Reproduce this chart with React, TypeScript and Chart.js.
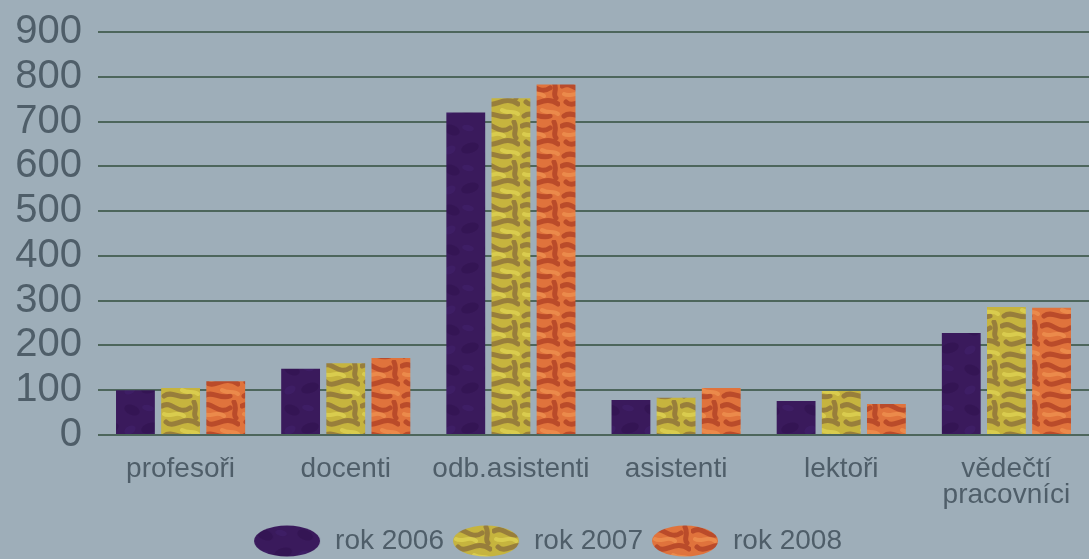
import React, { useEffect, useRef } from "react";
import { Chart, registerables } from "chart.js";

Chart.register(...registerables);

const categories: (string | string[])[] = [
  "profesoři",
  "docenti",
  "odb.asistenti",
  "asistenti",
  "lektoři",
  ["vědečtí", "pracovníci"],
];
const seriesNames = ["rok 2006", "rok 2007", "rok 2008"];
const values2006 = [100, 148, 720, 78, 76, 228];
const values2007 = [105, 160, 752, 83, 98, 286];
const values2008 = [120, 172, 783, 105, 69, 284];
const yMin = 0;
const yMax = 900;
const yStep = 100;

const BG = "#9eaeb9";
const TEXT = "#4f5e69";
const FONT = "'Liberation Sans', Arial, sans-serif";

function makePattern(base: string, dark: string, light: string, kind: number) {
  const c = document.createElement("canvas");
  c.width = 40;
  c.height = 40;
  const g = c.getContext("2d")!;
  g.fillStyle = base;
  g.fillRect(0, 0, 40, 40);
  g.lineCap = "round";
  if (kind === 0) {
    g.fillStyle = dark;
    g.globalAlpha = 0.35;
    g.beginPath();
    g.ellipse(12, 10, 8, 5, 0.4, 0, Math.PI * 2);
    g.ellipse(30, 28, 9, 5, -0.3, 0, Math.PI * 2);
    g.fill();
    g.fillStyle = light;
    g.globalAlpha = 0.25;
    g.beginPath();
    g.ellipse(28, 8, 6, 3, 0.2, 0, Math.PI * 2);
    g.ellipse(10, 30, 6, 4, -0.5, 0, Math.PI * 2);
    g.fill();
  } else {
    g.strokeStyle = dark;
    g.lineWidth = 5;
    g.globalAlpha = 0.6;
    g.beginPath();
    g.moveTo(2, 6);
    g.bezierCurveTo(12, 0, 18, 16, 30, 8);
    g.moveTo(6, 22);
    g.bezierCurveTo(14, 30, 24, 14, 38, 24);
    g.moveTo(4, 36);
    g.bezierCurveTo(12, 30, 20, 40, 30, 36);
    g.moveTo(34, 2);
    g.bezierCurveTo(38, 10, 32, 14, 36, 18);
    g.stroke();
    g.strokeStyle = light;
    g.lineWidth = 4;
    g.globalAlpha = 0.6;
    g.beginPath();
    g.moveTo(4, 14);
    g.bezierCurveTo(10, 18, 18, 10, 24, 16);
    g.moveTo(22, 30);
    g.bezierCurveTo(28, 34, 34, 30, 38, 34);
    g.stroke();
  }
  return g.createPattern(c, "repeat")!;
}

function makeEllipse(fill: CanvasPattern | string) {
  const c = document.createElement("canvas");
  c.width = 68;
  c.height = 32;
  const g = c.getContext("2d")!;
  g.fillStyle = fill;
  g.beginPath();
  g.ellipse(34, 16, 33, 15.5, 0, 0, Math.PI * 2);
  g.fill();
  return c;
}

export default function App() {
  const ref = useRef<HTMLCanvasElement>(null);

  useEffect(() => {
    const canvas = ref.current!;
    const p1 = makePattern("#3a1a5c", "#2a0f45", "#4a2a80", 0);
    const p2 = makePattern("#c6b43e", "#7a5a3a", "#e6dc5a", 1);
    const p3 = makePattern("#e0733c", "#a0301e", "#f29a55", 1);
    const fills = [p1, p2, p3];
    const ellipses = fills.map((f) => makeEllipse(f));
    const seriesValues = [values2006, values2007, values2008];

    const chart = new Chart(canvas, {
      type: "bar",
      data: {
        labels: categories,
        datasets: seriesNames.map((name, i) => ({
          label: name,
          data: seriesValues[i],
          backgroundColor: fills[i] as any,
          borderWidth: 0,
          categoryPercentage: 0.82,
          barPercentage: 0.86,
        })),
      },
      options: {
        responsive: false,
        animation: false,
        layout: { padding: { top: 32, right: -6, left: 0, bottom: -6 } },
        plugins: {
          tooltip: { enabled: false },
          legend: {
            position: "bottom",
            labels: {
              usePointStyle: true,
              pointStyleWidth: 68,
              padding: 8,
              color: TEXT,
              font: { family: FONT, size: 28 },
              generateLabels: (ch: any) =>
                ch.data.datasets.map((d: any, i: number) => ({
                  text: d.label,
                  pointStyle: ellipses[i],
                  fillStyle: "transparent",
                  strokeStyle: "transparent",
                  lineWidth: 0,
                  fontColor: TEXT,
                  datasetIndex: i,
                  hidden: false,
                })),
            },
          },
        },
        scales: {
          x: {
            grid: { display: false },
            border: { display: false },
            afterFit: (s: any) => {
              s.height = 84;
              s.paddingLeft = 0;
              s.paddingRight = 0;
            },
            ticks: {
              color: TEXT,
              padding: 13,
              maxRotation: 0,
              autoSkip: false,
              font: { family: FONT, size: 28, lineHeight: 0.93 },
            },
          },
          y: {
            min: yMin,
            max: yMax,
            border: { display: false },
            grid: { color: "#4d665c", lineWidth: 2, drawTicks: false },
            afterFit: (s: any) => {
              s.width = 98;
              s.paddingTop = 0;
              s.paddingBottom = 0;
            },
            ticks: {
              stepSize: yStep,
              autoSkip: false,
              color: TEXT,
              padding: 16,
              font: { family: FONT, size: 40, lineHeight: 1 },
            },
          },
        },
      },
    });
    return () => chart.destroy();
  }, []);

  return (
    <div
      style={{
        position: "absolute",
        left: 0,
        top: 0,
        width: 1089,
        height: 559,
        background: BG,
        overflow: "hidden",
      }}
    >
      <canvas ref={ref} width={1089} height={559} />
    </div>
  );
}
